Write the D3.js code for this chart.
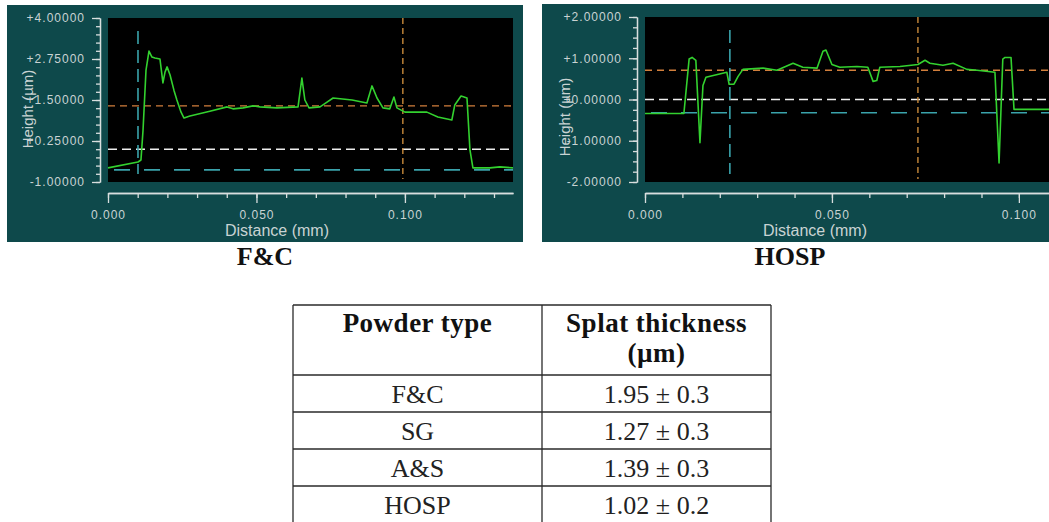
<!DOCTYPE html>
<html>
<head>
<meta charset="utf-8">
<script src="https://cdn.jsdelivr.net/npm/d3@7"></script>
<style>
  body { margin: 0; background: #fff; }
  svg text { font-family: "Liberation Sans", Arial, sans-serif; }
  svg text.serif { font-family: "Liberation Serif", "Times New Roman", serif; }
</style>
</head>
<body>
<svg id="chart" width="1049" height="522"></svg>
<script>
// profile F&C (distance mm, height um)
const fcDist = [0.0000, 0.0101, 0.0111, 0.0118, 0.0128, 0.0138, 0.0148, 0.0158, 0.0175, 0.0185,
  0.0192, 0.0199, 0.0209, 0.0222, 0.0232, 0.0246, 0.0256, 0.0276, 0.0343, 0.0401,
  0.0421, 0.0455, 0.0488, 0.0512, 0.0569, 0.0640, 0.0653, 0.0663, 0.0677, 0.0714,
  0.0734, 0.0758, 0.0822, 0.0872, 0.0889, 0.0906, 0.0926, 0.0949, 0.0963, 0.0973,
  0.1000, 0.1074, 0.1111, 0.1158, 0.1168, 0.1189, 0.1209, 0.1219, 0.1229, 0.1286,
  0.1320, 0.1364];
const fcHeight = [-0.57, -0.39, -0.33, 0.58, 2.41, 2.99, 2.81, 2.78, 2.75, 2.02,
  2.35, 2.51, 2.26, 1.80, 1.50, 1.13, 0.95, 1.01, 1.16, 1.29,
  1.23, 1.26, 1.32, 1.29, 1.26, 1.29, 2.17, 1.50, 1.26, 1.29,
  1.41, 1.56, 1.50, 1.41, 1.93, 1.56, 1.26, 1.23, 1.59, 1.26,
  1.13, 1.13, 0.98, 0.89, 1.35, 1.62, 1.56, -0.02, -0.57, -0.57,
  -0.54, -0.57];

// profile HOSP
const hospDist = [0.0000, 0.0104, 0.0118, 0.0126, 0.0136, 0.0147, 0.0155, 0.0163, 0.0219, 0.0225,
  0.0238, 0.0249, 0.0262, 0.0316, 0.0353, 0.0396, 0.0422, 0.0460, 0.0476, 0.0484,
  0.0500, 0.0521, 0.0567, 0.0596, 0.0610, 0.0620, 0.0628, 0.0682, 0.0730, 0.0749,
  0.0762, 0.0797, 0.0824, 0.0861, 0.0888, 0.0936, 0.0947, 0.0957, 0.0963, 0.0979,
  0.0987, 0.1011, 0.1110];
const hospHeight = [-0.34, -0.34, 0.98, 1.02, 0.95, -1.05, 0.34, 0.54, 0.66, 0.37,
  0.37, 0.56, 0.73, 0.76, 0.71, 0.88, 0.78, 0.76, 1.17, 1.20,
  0.85, 0.78, 0.80, 0.78, 0.44, 0.46, 0.78, 0.80, 0.85, 0.95,
  0.88, 0.83, 0.88, 0.73, 0.71, 0.66, -1.54, 0.98, 1.02, 1.02,
  -0.24, -0.24, -0.24];

// cursor / reference lines
const fcMarkers = { cyanX: 0.0101, orangeX: 0.0993, orangeY: 1.32, whiteY: 0.0, cyanY: -0.63 };
const hospMarkers = { cyanX: 0.0227, orangeX: 0.0730, orangeY: 0.71, whiteY: 0.0, cyanY: -0.32 };

// tick labels
const fcYTicks = [4, 2.75, 1.5, 0.25, -1];
const fcYLabels = ["+4.00000", "+2.75000", "+1.50000", "+0.25000", "-1.00000"];
const hospYTicks = [2, 1, 0, -1, -2];
const hospYLabels = ["+2.00000", "+1.00000", "+0.00000", "-1.00000", "-2.00000"];
const xTicks = [0, 0.05, 0.1];
const xLabels = ["0.000", "0.050", "0.100"];

// table
const powderTypes = ["F&C", "SG", "A&S", "HOSP"];
const thicknessMean = [1.95, 1.27, 1.39, 1.02];
const thicknessErr = [0.3, 0.3, 0.3, 0.2];

const svg = d3.select("#chart");
const teal = "#0e494b";
const axisCol = "#d8dede";
const textCol = "#c9d3d3";

function drawPanel(p) {
  const g = svg.append("g");
  g.append("rect")
    .attr("x", p.box[0]).attr("y", p.box[1])
    .attr("width", p.box[2]).attr("height", p.box[3])
    .attr("fill", teal);

  const x = d3.scaleLinear().domain([0, p.xMax]).range([p.left, p.right]);
  const y = d3.scaleLinear().domain(p.yDomain).range([p.bottom, p.top]);

  g.append("rect")
    .attr("x", p.left).attr("y", p.top)
    .attr("width", p.right - p.left).attr("height", p.bottom - p.top)
    .attr("fill", "#000");

  // y axis
  const yMinor = d3.range(p.yDomain[0], p.yDomain[1] + 0.001, 0.25);
  g.append("g").attr("class", "ax")
    .attr("transform", `translate(${p.left - 8},0)`)
    .call(d3.axisLeft(y).tickValues(yMinor).tickSize(4).tickSizeOuter(0).tickFormat(""));
  g.append("g").attr("class", "ax")
    .attr("transform", `translate(${p.left - 8},0)`)
    .call(d3.axisLeft(y).tickValues(p.yTicks).tickSize(8).tickSizeOuter(0).tickPadding(7)
      .tickFormat((d, i) => p.yLabels[i]));

  // x axis
  const xMinor = d3.range(0, p.xMax, 0.01);
  const xa = p.bottom + 11;
  g.append("g").attr("class", "ax")
    .attr("transform", `translate(0,${xa})`)
    .call(d3.axisBottom(x).tickValues(xMinor).tickSize(5).tickSizeOuter(0).tickFormat(""));
  g.append("g").attr("class", "ax")
    .attr("transform", `translate(0,${xa})`)
    .call(d3.axisBottom(x).tickValues(xTicks).tickSize(10).tickSizeOuter(0).tickPadding(7)
      .tickFormat((d, i) => xLabels[i]));

  g.selectAll(".ax path, .ax line").attr("stroke", axisCol).attr("stroke-width", 1.3);
  g.selectAll(".ax text").attr("fill", textCol).attr("font-size", 12)
    .style("letter-spacing", "1px")
    .style("font-family", "'Liberation Sans', Arial, sans-serif");

  // reference lines
  const m = p.markers;
  g.append("line")
    .attr("x1", p.left).attr("x2", p.right)
    .attr("y1", y(m.whiteY)).attr("y2", y(m.whiteY))
    .attr("stroke", "#eeeeee").attr("stroke-width", 1.4).attr("stroke-dasharray", "9,5");
  g.append("line")
    .attr("x1", p.left + 6).attr("x2", p.right)
    .attr("y1", y(m.cyanY)).attr("y2", y(m.cyanY))
    .attr("stroke", "#3aa3ab").attr("stroke-width", 1.6).attr("stroke-dasharray", "16,14");
  g.append("line")
    .attr("x1", p.left).attr("x2", p.right)
    .attr("y1", y(m.orangeY)).attr("y2", y(m.orangeY))
    .attr("stroke", "#d27f3c").attr("stroke-width", 1.4).attr("stroke-dasharray", "7,5");
  g.append("line")
    .attr("x1", x(m.cyanX)).attr("x2", x(m.cyanX))
    .attr("y1", p.top + 13).attr("y2", p.bottom - 8)
    .attr("stroke", "#3aa3ab").attr("stroke-width", 1.6).attr("stroke-dasharray", "13,6");
  g.append("line")
    .attr("x1", x(m.orangeX)).attr("x2", x(m.orangeX))
    .attr("y1", p.top).attr("y2", p.bottom - 3)
    .attr("stroke", "#c8893a").attr("stroke-width", 1.4).attr("stroke-dasharray", "6,4");

  // profile
  const line = d3.line().x(d => x(d[0])).y(d => y(d[1]));
  g.append("path")
    .datum(d3.zip(p.dist, p.height))
    .attr("d", line)
    .attr("fill", "none")
    .attr("stroke", "#33d12f")
    .attr("stroke-width", 1.6)
    .attr("stroke-linejoin", "round");

  // axis titles
  g.append("text")
    .attr("transform", `translate(${p.hx},${p.hy}) rotate(-90)`)
    .attr("text-anchor", "middle").attr("dy", "0.35em")
    .attr("fill", textCol).attr("font-size", 15)
    .text("Height (µm)");
  g.append("text")
    .attr("x", p.dx).attr("y", 236)
    .attr("text-anchor", "middle")
    .attr("fill", textCol).attr("font-size", 16)
    .text("Distance (mm)");

  // caption
  svg.append("text")
    .attr("class", "serif")
    .attr("x", p.capX).attr("y", 265)
    .attr("text-anchor", "middle")
    .attr("font-weight", "bold").attr("font-size", 26)
    .attr("fill", "#111")
    .text(p.caption);
}

drawPanel({
  box: [7, 5, 516, 237], left: 108, right: 513, top: 18, bottom: 182,
  xMax: 0.1364, yDomain: [-1, 4], yTicks: fcYTicks, yLabels: fcYLabels,
  dist: fcDist, height: fcHeight, markers: fcMarkers,
  hx: 28, hy: 109, dx: 277, capX: 265, caption: "F&C"
});

drawPanel({
  box: [542, 4, 520, 238], left: 645, right: 1060, top: 17, bottom: 182,
  xMax: 0.111, yDomain: [-2, 2], yTicks: hospYTicks, yLabels: hospYLabels,
  dist: hospDist, height: hospHeight, markers: hospMarkers,
  hx: 565, hy: 117, dx: 815, capX: 790, caption: "HOSP"
});

// table
const tX = [293, 542, 771];
const tTop = 305, headBottom = 375;
const rowY = d3.scaleBand().domain(powderTypes).range([headBottom, headBottom + 37 * powderTypes.length]);
const tBottom = headBottom + 37 * powderTypes.length;
const tg = svg.append("g");

const tLine = "#2a2a2a";
tX.forEach(xv => {
  tg.append("line").attr("x1", xv).attr("x2", xv).attr("y1", tTop).attr("y2", tBottom)
    .attr("stroke", tLine).attr("stroke-width", 1.3);
});
[tTop, headBottom].concat(powderTypes.map(d => rowY(d) + rowY.bandwidth())).forEach(yv => {
  tg.append("line").attr("x1", tX[0]).attr("x2", tX[2]).attr("y1", yv).attr("y2", yv)
    .attr("stroke", tLine).attr("stroke-width", 1.3);
});

const c1 = (tX[0] + tX[1]) / 2, c2 = (tX[1] + tX[2]) / 2;
const heads = [[c1, 332, "Powder type"], [c2, 332, "Splat thickness"], [c2, 362, "(µm)"]];
tg.selectAll("text.hd").data(heads).join("text")
  .attr("class", "hd serif")
  .attr("x", d => d[0]).attr("y", d => d[1]).attr("text-anchor", "middle")
  .attr("font-weight", "bold").attr("font-size", 27).attr("fill", "#111")
  .style("letter-spacing", "0.5px")
  .text(d => d[2]);

tg.selectAll("text.pt").data(powderTypes).join("text")
  .attr("class", "pt serif")
  .attr("x", c1).attr("y", d => rowY(d) + rowY.bandwidth() / 2)
  .attr("dy", "0.35em").attr("text-anchor", "middle")
  .attr("font-size", 26).attr("fill", "#222")
  .text(d => d);
tg.selectAll("text.th").data(powderTypes).join("text")
  .attr("class", "th serif")
  .attr("x", c2).attr("y", d => rowY(d) + rowY.bandwidth() / 2)
  .attr("dy", "0.35em").attr("text-anchor", "middle")
  .attr("font-size", 26).attr("fill", "#222")
  .text((d, i) => `${thicknessMean[i].toFixed(2)} ± ${thicknessErr[i].toFixed(1)}`);
</script>
</body>
</html>
